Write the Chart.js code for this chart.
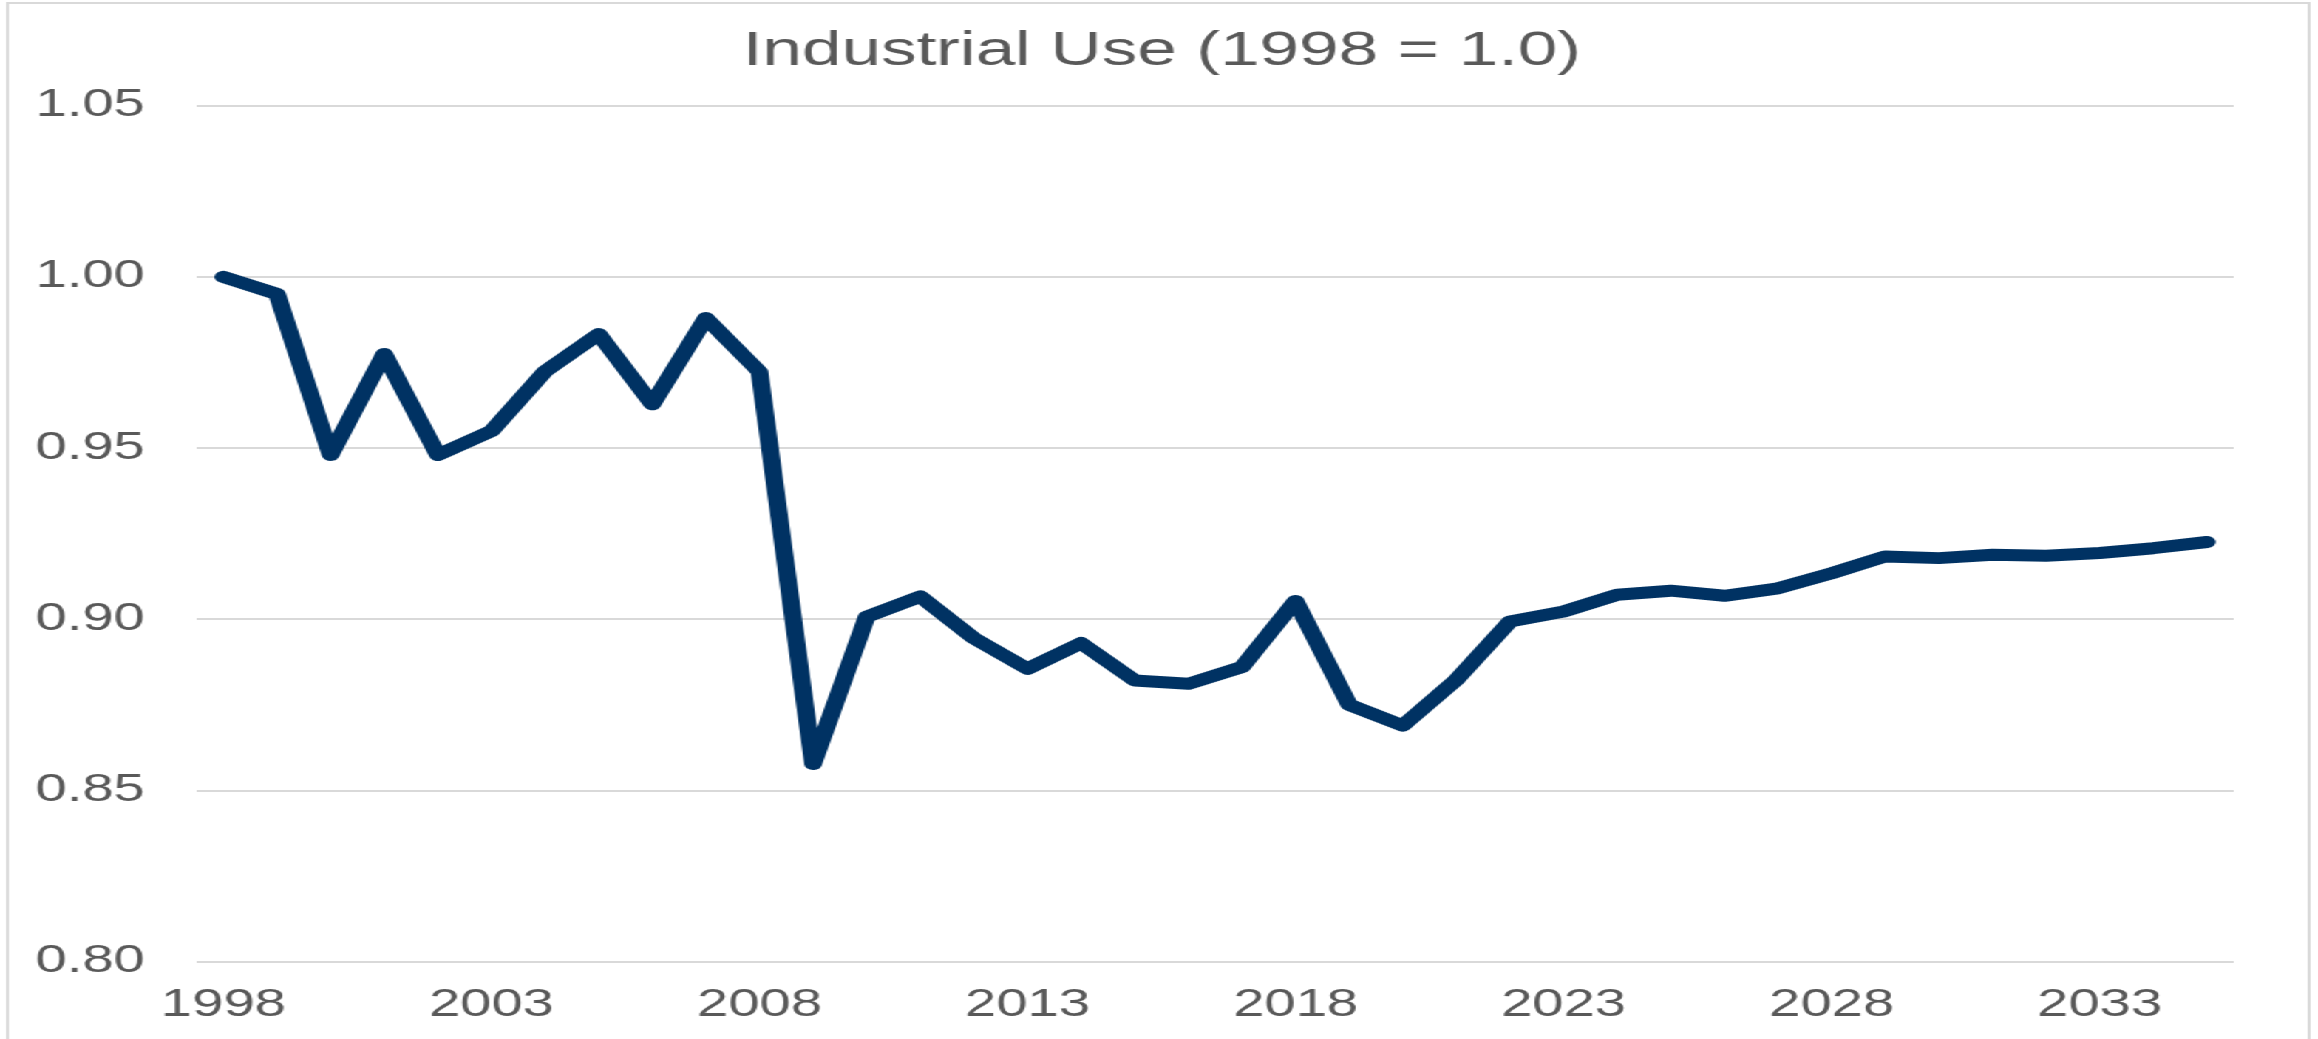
<!DOCTYPE html>
<html>
<head>
<meta charset="utf-8">
<title>Industrial Use (1998 = 1.0)</title>
<script src="https://cdn.jsdelivr.net/npm/chart.js@4.4.1/dist/chart.umd.min.js"></script>
<style>
  html, body { margin: 0; padding: 0; background: #fff; overflow: hidden; }
  /* the reference is stretched sideways, so the chart is drawn narrow and scaled */
  #stage {
    position: relative;
    width: 1568px;
    height: 1039px;
    transform: scaleX(1.4783);
    transform-origin: 0 0;
  }
  #frame {
    position: absolute;
    left: 4px;
    top: 2px;
    width: 1555px;
    height: 1100px;
    border: 2px solid #d9d9d9;
  }
  #wrap { position: absolute; left: 0; top: 0; width: 1568px; height: 1039px; }
</style>
</head>
<body>
<div id="stage">
  <div id="frame"></div>
  <div id="wrap"><canvas id="chart"></canvas></div>
</div>
<script>
// data
const years = [
  1998, 1999, 2000, 2001, 2002, 2003, 2004, 2005, 2006, 2007,
  2008, 2009, 2010, 2011, 2012, 2013, 2014, 2015, 2016, 2017,
  2018, 2019, 2020, 2021, 2022, 2023, 2024, 2025, 2026, 2027,
  2028, 2029, 2030, 2031, 2032, 2033, 2034, 2035
];
const industrialUse = [
  1.000, 0.995, 0.948, 0.9775, 0.948, 0.955, 0.9724, 0.9833, 0.9628, 0.988,
  0.9723, 0.8578, 0.9008, 0.9067, 0.8945, 0.8856, 0.8931, 0.8822, 0.8812, 0.8861,
  0.9054, 0.8751, 0.869, 0.8824, 0.8994, 0.9023, 0.9072, 0.9084, 0.9069, 0.9091,
  0.9135, 0.9184, 0.9179, 0.9189, 0.9186, 0.9194, 0.9208, 0.9226
];
const xTickLabels = ["1998", "2003", "2008", "2013", "2018", "2023", "2028", "2033"];
const yTicks = [0.80, 0.85, 0.90, 0.95, 1.00, 1.05];

const grey = "#595959";
const fontFamily = "'Liberation Sans', Arial, sans-serif";

// title sits a bit right of the canvas centre in the reference
const titleShift = {
  id: "titleShift",
  afterLayout(chart) {
    const t = chart.titleBlock;
    if (t) { t.left = 61; t.right = 1511; }
  }
};

const ctx = document.getElementById("chart").getContext("2d");
new Chart(ctx, {
  type: "line",
  data: {
    labels: years.map(String),
    datasets: [{
      label: "Industrial Use",
      data: industrialUse,
      borderColor: "#003263",
      borderWidth: 12,
      borderJoinStyle: "round",
      borderCapStyle: "round",
      pointRadius: 0,
      tension: 0,
      fill: false
    }]
  },
  options: {
    responsive: true,
    maintainAspectRatio: false,
    animation: false,
    layout: { padding: { left: 0, right: 57, top: 0, bottom: 0 } },
    plugins: {
      legend: { display: false },
      tooltip: { enabled: false },
      title: {
        display: true,
        text: "Industrial Use (1998 = 1.0)",
        color: grey,
        font: { family: fontFamily, size: 48, weight: "normal", lineHeight: 1.2 },
        padding: { top: 23, bottom: 25 }
      }
    },
    scales: {
      x: {
        offset: true,
        grid: { display: false, drawTicks: false },
        border: { display: false },
        ticks: {
          autoSkip: false,
          maxRotation: 0,
          padding: 21,
          color: grey,
          font: { family: fontFamily, size: 38 },
          callback: function (val) {
            const lab = this.getLabelForValue(val);
            return xTickLabels.includes(lab) ? lab : "";
          }
        },
        afterFit: s => { s.height = 77; }
      },
      y: {
        min: yTicks[0],
        max: yTicks[yTicks.length - 1],
        grid: { color: "#d9d9d9", lineWidth: 2, drawTicks: false },
        border: { display: false },
        ticks: {
          stepSize: 0.05,
          padding: 35,
          color: grey,
          font: { family: fontFamily, size: 38 },
          callback: v => v.toFixed(2)
        },
        afterBuildTicks: s => { s.ticks = yTicks.map(v => ({ value: v })); },
        afterFit: s => { s.width = 133; }
      }
    }
  },
  plugins: [titleShift]
});
</script>
</body>
</html>
